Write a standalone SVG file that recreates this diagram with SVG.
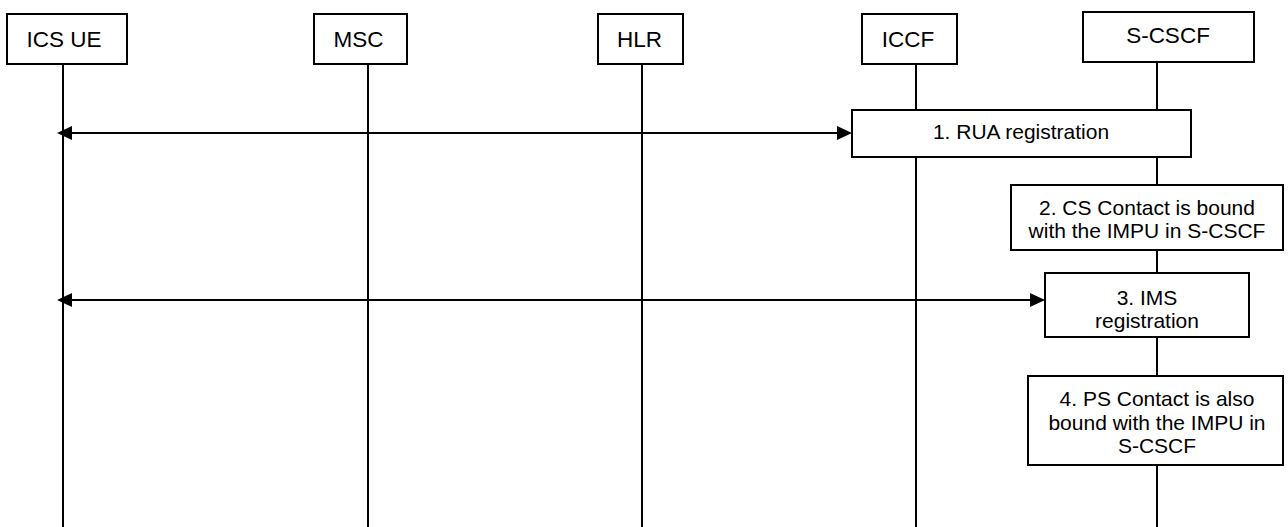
<svg xmlns="http://www.w3.org/2000/svg" width="1288" height="527" viewBox="0 0 1288 527">
  <style>
    .box { fill: #ffffff; stroke: #000000; stroke-width: 2; }
    .life { stroke: #000000; stroke-width: 2; fill: none; }
    .msg { stroke: #000000; stroke-width: 2; fill: none; }
    .head { fill: #000000; stroke: none; }
    .hdr { font-family: "Liberation Sans", Arial, sans-serif; font-size: 22.5px; fill: #000000; text-anchor: middle; }
    .txt { font-family: "Liberation Sans", Arial, sans-serif; font-size: 21px; fill: #000000; text-anchor: middle; }
  </style>
  <rect width="1288" height="527" fill="#ffffff"/>

  <!-- lifelines -->
  <g id="lifelines">
    <line class="life" x1="63" y1="64" x2="63" y2="527"/>
    <line class="life" x1="368" y1="64" x2="368" y2="527"/>
    <line class="life" x1="642" y1="64" x2="642" y2="527"/>
    <line class="life" x1="916" y1="64" x2="916" y2="527"/>
    <line class="life" x1="1157" y1="62" x2="1157" y2="527"/>
  </g>

  <!-- participants -->
  <g id="ics-ue">
    <rect class="box" x="7" y="14" width="120" height="50"/>
    <text class="hdr" x="64" y="47">ICS UE</text>
  </g>
  <g id="msc">
    <rect class="box" x="314" y="14" width="93" height="50"/>
    <text class="hdr" x="358.5" y="47">MSC</text>
  </g>
  <g id="hlr">
    <rect class="box" x="598" y="14" width="85" height="50"/>
    <text class="hdr" x="639.5" y="47">HLR</text>
  </g>
  <g id="iccf">
    <rect class="box" x="862" y="14" width="95" height="50"/>
    <text class="hdr" x="908" y="47">ICCF</text>
  </g>
  <g id="s-cscf">
    <rect class="box" x="1083" y="12" width="171" height="50"/>
    <text class="hdr" x="1168" y="43">S-CSCF</text>
  </g>

  <!-- messages -->
  <g id="connectors">
    <line class="msg" x1="70" y1="133" x2="840" y2="133"/>
    <path class="head" d="M57,133 L72,126 L72,140 Z"/>
    <path class="head" d="M852,133 L837,126 L837,140 Z"/>
    <line class="msg" x1="70" y1="300" x2="1033" y2="300"/>
    <path class="head" d="M57,300 L72,293 L72,307 Z"/>
    <path class="head" d="M1045,300 L1030,293 L1030,307 Z"/>
  </g>

  <!-- procedure steps -->
  <g id="step1">
    <rect class="box" x="852" y="110" width="339" height="47"/>
    <text class="txt" x="1021" y="139">1. RUA registration</text>
  </g>
  <g id="step2">
    <rect class="box" x="1011" y="185" width="272" height="65"/>
    <text class="txt" x="1147" y="215">2. CS Contact is bound</text>
    <text class="txt" x="1147" y="238">with the IMPU in S-CSCF</text>
  </g>
  <g id="step3">
    <rect class="box" x="1045" y="273" width="204" height="64"/>
    <text class="txt" x="1147" y="305">3. IMS</text>
    <text class="txt" x="1147" y="328">registration</text>
  </g>
  <g id="step4">
    <rect class="box" x="1028" y="376" width="255" height="89"/>
    <text class="txt" x="1157" y="406">4. PS Contact is also</text>
    <text class="txt" x="1157" y="430">bound with the IMPU in</text>
    <text class="txt" x="1157" y="453">S-CSCF</text>
  </g>
</svg>
